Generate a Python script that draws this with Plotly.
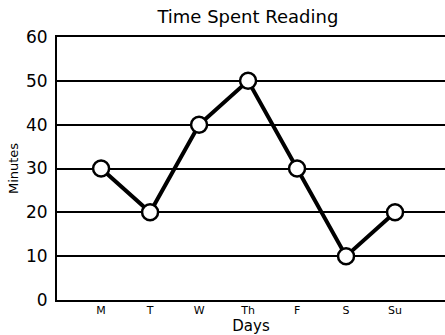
import plotly.graph_objects as go

# Reading log for one week
days = ["M", "T", "W", "Th", "F", "S", "Su"]
minutes = [30, 20, 40, 50, 30, 10, 20]
y_ticks = [0, 10, 20, 30, 40, 50, 60]

FONT = "DejaVu Sans"

fig = go.Figure()
fig.add_trace(go.Scatter(
    x=list(range(len(days))),
    y=minutes,
    mode="lines+markers",
    line=dict(color="black", width=4),
    marker=dict(size=16, color="white", line=dict(color="black", width=2.5)),
    cliponaxis=False,
    showlegend=False,
))

fig.update_layout(
    width=445,
    height=335,
    margin=dict(l=57, r=0, t=37, b=35),
    paper_bgcolor="white",
    plot_bgcolor="white",
    font=dict(family=FONT, color="black"),
    title=dict(
        text="Time Spent Reading",
        x=0.557, xanchor="center",
        y=0.95, yanchor="middle",
        font=dict(size=18, family=FONT, color="black"),
    ),
    xaxis=dict(
        range=[-0.9, 7.02],
        tickmode="array",
        tickvals=list(range(len(days))),
        ticktext=days,
        showgrid=False,
        zeroline=False,
        showline=True,
        mirror=True,
        linecolor="black",
        linewidth=2,
        ticks="",
        ticklabelstandoff=-1,
        tickfont=dict(size=11, family=FONT, color="black"),
        title=dict(text="Days", font=dict(size=15, family=FONT, color="black"), standoff=4),
    ),
    yaxis=dict(
        range=[0, 60],
        tickmode="array",
        tickvals=y_ticks,
        showgrid=True,
        gridcolor="black",
        gridwidth=2,
        zeroline=False,
        showline=True,
        linecolor="black",
        linewidth=2,
        ticks="",
        ticklabelstandoff=4,
        tickfont=dict(size=17, family=FONT, color="black"),
        title=dict(text="Minutes", font=dict(size=13, family=FONT, color="black"), standoff=4),
    ),
)

fig.write_html("out.html")
